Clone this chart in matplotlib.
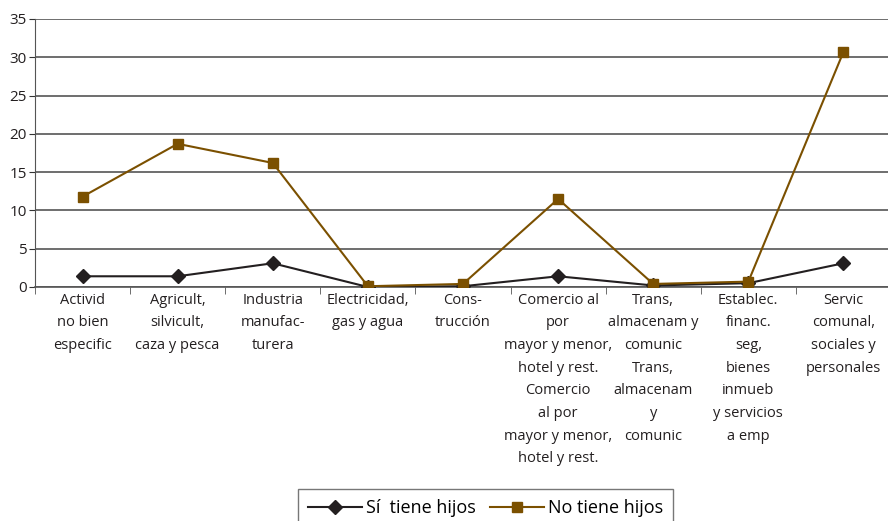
import matplotlib.pyplot as plt
import numpy as np

plt.rcParams['font.family'] = ['Open Sans', 'DejaVu Sans']

# Datos
categorias = [
    "Activid\nno bien\nespecific",
    "Agricult,\nsilvicult,\ncaza y pesca",
    "Industria\nmanufac-\nturera",
    "Electricidad,\ngas y agua",
    "Cons-\ntrucción",
    "Comercio al\npor\nmayor y menor,\nhotel y rest.\nComercio\nal por\nmayor y menor,\nhotel y rest.",
    "Trans,\nalmacenam y\ncomunic\nTrans,\nalmacenam\ny\ncomunic",
    "Establec.\nfinanc.\nseg,\nbienes\ninmueb\ny servicios\na emp",
    "Servic\ncomunal,\nsociales y\npersonales",
]
si_tiene = [1.4, 1.4, 3.1, 0.0, 0.1, 1.4, 0.2, 0.5, 3.1]
no_tiene = [11.8, 18.7, 16.2, 0.1, 0.4, 11.5, 0.4, 0.7, 30.7]
y_ticks = [0, 5, 10, 15, 20, 25, 30, 35]

color_si = "#231f20"
color_no = "#7b5000"

fig = plt.figure(figsize=(8.88, 5.21), dpi=100)
ax = fig.add_axes([35 / 888, 1 - 287 / 521, 856 / 888, 268 / 521])

x = np.arange(len(categorias))
ax.plot(x, si_tiene, color=color_si, marker="D", markersize=7, linewidth=1.5,
        label="Sí  tiene hijos", zorder=3)
ax.plot(x, no_tiene, color=color_no, marker="s", markersize=7.5, linewidth=1.5,
        label="No tiene hijos", zorder=4)

ax.set_xlim(-0.5, len(categorias) - 0.5)
ax.set_ylim(0, 35)
ax.set_yticks(y_ticks)
ax.tick_params(axis="y", labelsize=11, length=4, direction="out", colors="#333333",
               labelcolor="#231f20", pad=2)

# categorias centradas, ticks entre categorias
ax.set_xticks(x)
ax.set_xticklabels(categorias, fontsize=10.5, linespacing=1.7, color="#231f20")
ax.tick_params(axis="x", length=0, pad=4)
ax.set_xticks(np.arange(-0.5, len(categorias), 1), minor=True)
ax.tick_params(axis="x", which="minor", length=5, direction="out", colors="#555555")

ax.grid(axis="y", color="#555555", linewidth=1.2)
ax.set_axisbelow(True)
for s in ["top", "right"]:
    ax.spines[s].set_visible(False)
ax.spines["left"].set_color("#555555")
ax.spines["bottom"].set_color("#555555")
ax.spines["bottom"].set_linewidth(1.2)

leg = fig.legend(loc="upper left", bbox_to_anchor=(298 / 888, 1 - 489 / 521), ncol=2,
                 fontsize=13, frameon=True, fancybox=False, edgecolor="#555555",
                 handlelength=3.0, columnspacing=0.8, handletextpad=0.2,
                 borderpad=0.55, borderaxespad=0)
leg.get_frame().set_linewidth(1.0)

fig.savefig("out.png", dpi=100)
